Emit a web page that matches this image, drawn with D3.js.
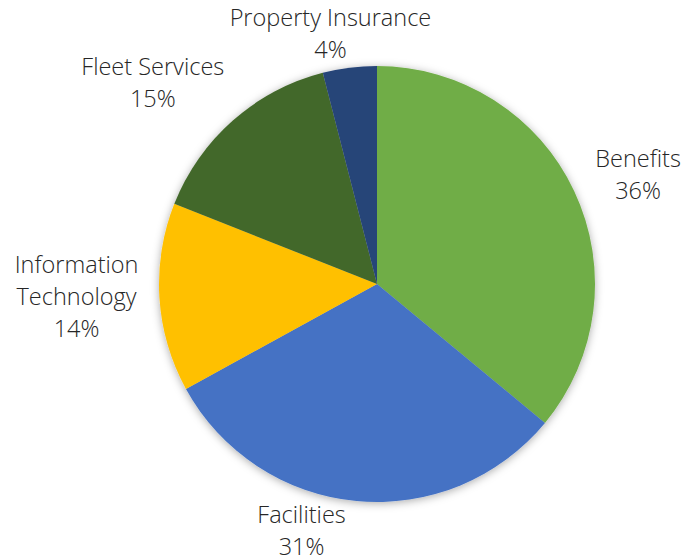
<!DOCTYPE html>
<html>
<head>
<meta charset="utf-8">
<script src="https://cdn.jsdelivr.net/npm/d3@7"></script>
<style>
  html, body { margin: 0; padding: 0; background: #ffffff; }
  svg { display: block; }
  .lbl { font-family: "Open Sans", Lato, sans-serif; font-weight: 300; fill: #262626; }
</style>
</head>
<body>
<svg id="chart" width="682" height="558"></svg>
<script>
// Budget share by category, clockwise from 12 o'clock
const categories = ["Benefits", "Facilities", "Information Technology", "Fleet Services", "Property Insurance"];
const labelLines = [["Benefits"], ["Facilities"], ["Information", "Technology"], ["Fleet Services"], ["Property Insurance"]];
const shares = [36, 31, 14, 15, 4];
const sliceColors = ["#70AD47", "#4472C4", "#FFC000", "#43682B", "#264478"];

const W = 682, H = 558;
const cx = 377, cy = 284, R = 218;
const fontSize = 23.5, lineH = 32;

const svg = d3.select("#chart");

const defs = svg.append("defs");
const f = defs.append("filter").attr("id", "pieShadow")
  .attr("x", "-10%").attr("y", "-10%").attr("width", "120%").attr("height", "120%");
f.append("feDropShadow").attr("dx", 0).attr("dy", 1.5)
  .attr("stdDeviation", 4).attr("flood-color", "#000").attr("flood-opacity", 0.33);

const data = categories.map((c, i) => ({ name: c, lines: labelLines[i], value: shares[i], color: sliceColors[i] }));

const pie = d3.pie().value(d => d.value).sort(null);
const arcs = pie(data);
const arc = d3.arc().innerRadius(0).outerRadius(R);

const g = svg.append("g").attr("transform", `translate(${cx},${cy})`);
g.append("g").attr("filter", "url(#pieShadow)")
  .selectAll("path").data(arcs).join("path")
  .attr("d", arc)
  .attr("fill", d => d.data.color);

// Labels sit just outside the rim at each slice's mid-angle;
// the block hangs off that point on the side it faces, lines centred.
const labelRadius = R + 10;
// small placement nudges so labels clear neighbours
const nudge = { "Facilities": [-54, -12], "Property Insurance": [-18, 8], "Benefits": [12, 20], "Fleet Services": [-2, 2], "Information Technology": [-11, -2] };

arcs.forEach(a => {
  const mid = (a.startAngle + a.endAngle) / 2;
  let x = Math.sin(mid) * labelRadius;
  let y = -Math.cos(mid) * labelRadius;
  const [nx, ny] = nudge[a.data.name] || [0, 0];
  x += nx; y += ny;
  const lines = a.data.lines.concat([`${a.data.value}%`]);
  const n = lines.length;
  const sx = Math.sin(mid), sy = -Math.cos(mid);
  let side = 0;
  if (Math.abs(sx) > 0.5) side = sx > 0 ? 1 : -1;
  // vertical: block top (below), bottom (above) or centred (sides)
  let topY;
  if (sy > 0.7) topY = y;                     // below the pie
  else if (sy < -0.4) topY = y - n * lineH;   // above the pie
  else topY = y - n * lineH / 2;              // beside the pie
  const t = g.append("text").attr("class", "lbl")
    .attr("text-anchor", "middle")
    .attr("font-size", fontSize);
  const spans = lines.map((ln, i) =>
    t.append("tspan").attr("y", topY + i * lineH + lineH / 2)
      .attr("dy", "0.35em").text(ln));
  const width = d3.max(spans, s => s.node().getComputedTextLength());
  const centerX = x + side * width / 2;
  spans.forEach(s => s.attr("x", centerX));
});
</script>
</body>
</html>
